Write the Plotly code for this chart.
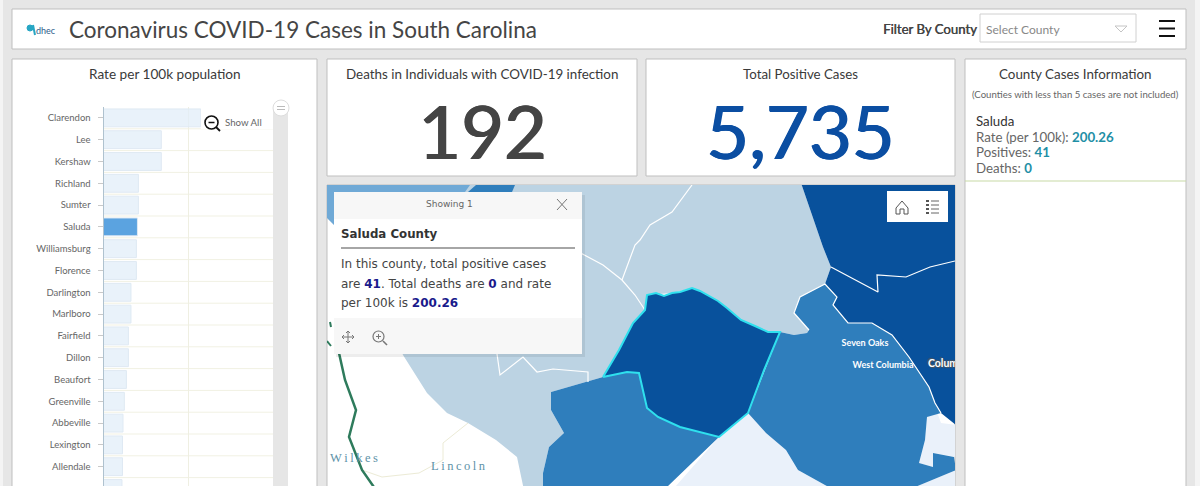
# -*- coding: utf-8 -*-
import plotly.graph_objects as go

W, H = 1200, 486
SANS = "Lato"
POPUP = "DejaVu Sans"

# chart values
counties = ["Clarendon", "Lee", "Kershaw", "Richland", "Sumter", "Saluda", "Williamsburg",
            "Florence", "Darlington", "Marlboro", "Fairfield", "Dillon", "Beaufort",
            "Greenville", "Abbeville", "Lexington", "Allendale", " "]
rates = [574, 341, 341, 206, 206, 200.26, 194, 194, 162, 162, 147, 147, 135, 123, 115, 112, 112, 109]
selected_county = "Saluda"

total_deaths = "192"
total_positive = "5,735"

# map outlines
saluda_x = [603, 619, 633, 645, 647, 656, 664, 672, 680, 692, 700, 707, 718, 727, 741, 755, 768, 780,
            764, 748, 719, 680, 658, 647, 639, 627]
saluda_y = [377, 350, 323, 310, 295, 293, 296, 293, 292, 288, 291, 295, 301, 308, 320, 326, 332, 332,
            370, 413, 437, 427, 417, 408, 373, 372]

edgefield_x = [551, 603, 627, 639, 647, 658, 680, 719, 668, 668, 543, 543, 549, 564, 551]
edgefield_y = [392, 377, 372, 373, 408, 417, 427, 437, 486, 495, 495, 473, 447, 433, 410]

lexington_x = [780, 794, 807, 809, 794, 800, 825, 837, 833, 848, 872, 892, 909, 929, 935, 941,
               927, 925, 919, 933, 933, 954, 956, 896, 843, 798, 786, 766, 748]
lexington_y = [332, 335, 333, 330, 313, 297, 284, 297, 305, 323, 323, 335, 357, 387, 403, 413,
               417, 440, 463, 467, 453, 457, 470, 495, 495, 470, 450, 433, 413]

richland_x = [800, 823, 831, 825, 837, 833, 848, 872, 892, 909, 929, 935, 941, 956, 956]
richland_y = [180, 247, 267, 284, 297, 305, 323, 323, 335, 357, 387, 403, 413, 425, 180]

light_x = [334, 800, 823, 831, 825, 800, 794, 809, 807, 794, 780, 768, 755, 741, 727, 707, 692, 672,
           647, 645, 633, 619, 603, 551, 551, 564, 549, 543, 543, 525, 517, 496, 468, 447, 427, 403, 380, 334]
light_y = [180, 180, 247, 267, 284, 297, 313, 330, 333, 335, 332, 332, 326, 320, 308, 295, 288, 293,
           295, 310, 323, 350, 377, 392, 410, 433, 447, 473, 495, 495, 457, 440, 423, 413, 393, 355, 300, 300]

pale_x = [719, 748, 766, 786, 798, 843, 668]
pale_y = [437, 413, 433, 450, 470, 495, 495]
pale2_x = [937, 941, 956, 956, 933, 933, 919, 925, 927]
pale2_y = [412, 423, 425, 457, 453, 467, 463, 440, 417]
pale3_x = [896, 956, 956]
pale3_y = [495, 470, 495]

mid_top_x = [468, 476, 515, 512]
mid_top_y = [192, 185, 185, 192]
mid_left_x = [327, 470, 465, 334, 334, 327]
mid_left_y = [185, 185, 192, 192, 225, 218]

river_x = [339, 345, 356, 349, 362, 376]
river_y = [353, 380, 410, 437, 470, 490]
river_bit1_x = [330, 331]
river_bit1_y = [322, 327]
river_bit2_x = [327, 331]
river_bit2_y = [341, 346]
road_x = [468, 443, 443, 419, 382, 362]
road_y = [423, 443, 460, 473, 477, 470]
border1_x = [575, 603, 622, 635, 645]
border1_y = [250, 265, 280, 295, 310]
border2_x = [622, 635, 640, 650, 672, 685, 692]
border2_y = [280, 245, 240, 225, 212, 195, 185]
border3_x = [497, 500, 523, 537, 553, 588, 588]
border3_y = [354, 375, 357, 372, 369, 372, 382]
border4_x = [831, 855, 878, 877, 906, 930, 955]
border4_y = [267, 280, 292, 275, 277, 267, 261]

place_names = ["Seven Oaks", "West Columbia", "Columbia"]
place_x = [865, 883, 950]
place_y = [344, 366, 364]
georgia_names = ["W\u2009i\u2009l\u2009k\u2009e\u2009s", "L\u2009i\u2009n\u2009c\u2009o\u2009l\u2009n"]
georgia_x = [354, 458]
georgia_y = [459, 467]

C_LIGHT = "#BCD3E3"
C_MID = "#2F7EBC"
C_DARK = "#08519C"
C_PALE = "#EAF1FA"
C_CYAN = "#2FE0EE"


def px(x):
    return x / W


def py(y):
    return 1 - y / H


shapes = []
annotations = []


def rect(x0, y0, x1, y1, fill="white", line=None, layer="below", width=1):
    shapes.append(dict(type="rect", xref="paper", yref="paper", x0=px(x0), x1=px(x1), y0=py(y0), y1=py(y1),
                       fillcolor=fill, line=dict(color=line or fill, width=width if line else 0), layer=layer))


def seg(x0, y0, x1, y1, color, width=1, layer="above"):
    shapes.append(dict(type="line", xref="paper", yref="paper", x0=px(x0), x1=px(x1), y0=py(y0), y1=py(y1),
                       line=dict(color=color, width=width), layer=layer))


def ring(x0, y0, x1, y1, color, width=1, fill="rgba(0,0,0,0)"):
    shapes.append(dict(type="circle", xref="paper", yref="paper", x0=px(x0), x1=px(x1), y0=py(y0), y1=py(y1),
                       fillcolor=fill, line=dict(color=color, width=width), layer="above"))


def label(x, y, text, size=12, color="#444444", anchor="center", family=SANS, shadow=None):
    font = dict(size=size, color=color, family=family)
    if shadow:
        font["shadow"] = shadow
    annotations.append(dict(xref="paper", yref="paper", x=px(x), y=py(y), text=text, showarrow=False,
                            xanchor=anchor, yanchor="middle", align="left", borderpad=0, font=font))


# page and panels
BORDER = "#BFBFBF"
rect(12, 9, 1186, 49, line=BORDER)
rect(12, 59, 317, 500, line=BORDER)
rect(327, 59, 637, 176, line=BORDER)
rect(646, 59, 955, 176, line=BORDER)
rect(965, 59, 1186, 500, line=BORDER)
rect(327, 185, 955, 500, line=BORDER)
rect(1195, 0, 1200, 486, fill="#F4F4F4")
rect(0, 0, 3, 486, fill="#F4F4F4")

# header
label(68, 29, "Coronavirus COVID-19 Cases in South Carolina", size=22.5, anchor="left", color="#454545")
label(35, 30, "dhec", size=9, anchor="left", color="#2B5C8A")
ring(27, 25, 33, 31, "#27A6C4", fill="#27A6C4")
seg(33, 25, 35, 35, "#27A6C4", 2)
label(882, 29, "Filter By County", size=13.2, anchor="left", color="#444444",
      shadow="0.4px 0 0 #444444")
rect(980, 14, 1136, 42, line="#D0D0D0")
label(985, 29, "Select County", size=12, anchor="left", color="#888888")
shapes.append(dict(type="path", xref="paper", yref="paper", layer="above",
                   path=f"M {px(1115)} {py(26)} L {px(1127)} {py(26)} L {px(1121)} {py(32)} Z",
                   line=dict(color="#C4C4C4", width=1)))
for yy in [21, 28.5, 36]:
    seg(1159, yy, 1175, yy, "#111111", 2)

# kpi cards
label(165, 74, "Rate per 100k population", size=13.6, color="#3A3A3A")
label(482, 74, "Deaths in Individuals with COVID-19 infection", size=13.4, color="#3A3A3A")
label(800, 74, "Total Positive Cases", size=13.3, color="#3A3A3A")
label(482, 131, total_deaths, size=74, color="#444444", shadow="1px 0 0 #444444, -0.5px 0 0 #444444")
label(800, 131, total_positive, size=74, color="#0B4EA2", shadow="1px 0 0 #0B4EA2, -0.5px 0 0 #0B4EA2")

# county info
label(1075, 74, "County Cases Information", size=13.4, color="#3A3A3A")
label(1075, 94, "(Counties with less than 5 cases are not included)", size=9.6, color="#666666")
TEAL = "#1F8FA6"
label(975, 121, "Saluda", size=13.3, color="#333333", anchor="left")
label(975, 137, f"Rate (per 100k): <b><span style='color:{TEAL}'>200.26</span></b>", size=13.3, color="#666666", anchor="left")
label(975, 152, f"Positives: <b><span style='color:{TEAL}'>41</span></b>", size=13.3, color="#666666", anchor="left")
label(975, 168, f"Deaths: <b><span style='color:{TEAL}'>0</span></b>", size=13.3, color="#666666", anchor="left")
seg(965, 181, 1186, 181, "#C7D9A5", 1)

# bar chart scrollbar and zoom control
rect(273, 107, 288, 500, fill="#E6E6E6")
rect(201, 107, 273, 129, layer="above")
ring(205, 116, 218, 129, "#111111", 1.6)
seg(208.5, 122.5, 214.5, 122.5, "#111111", 1.5)
seg(216, 127, 220, 131, "#111111", 1.8)
label(224, 122, "Show All", size=9.7, anchor="left", color="#666666")
ring(273, 100, 289, 116, "#DDDDDD", 1, fill="white")
seg(277, 106.5, 285, 106.5, "#BBBBBB", 1)
seg(277, 109.5, 285, 109.5, "#BBBBBB", 1)

# row separators of the bar chart
for i in range(len(counties)):
    shapes.append(dict(type="line", xref="x", yref="y", x0=0, x1=1000, y0=i + 0.5, y1=i + 0.5,
                       line=dict(color="#F1F1E3", width=1), layer="below"))

fig = go.Figure()

bar_colors = ["#5BA3E0" if c == selected_county else "rgba(226,237,248,0.75)" for c in counties]
fig.add_trace(go.Bar(y=counties, x=rates, orientation="h", width=0.82,
                     marker=dict(color=bar_colors, line=dict(color="#DFE9F3", width=1)),
                     xaxis="x", yaxis="y"))


def area(xs, ys, color, outline="#FFFFFF", lw=0):
    fig.add_trace(go.Scatter(x=xs + xs[:1], y=ys + ys[:1], mode="lines", fill="toself", fillcolor=color,
                             line=dict(color=outline if lw else color, width=lw), xaxis="x2", yaxis="y2",
                             hoverinfo="skip"))


def path(xs, ys, color, lw):
    fig.add_trace(go.Scatter(x=xs, y=ys, mode="lines", line=dict(color=color, width=lw), xaxis="x2", yaxis="y2",
                             hoverinfo="skip"))


area(light_x, light_y, C_LIGHT)
area(pale_x, pale_y, C_PALE)
area(pale2_x, pale2_y, C_PALE)
area(pale3_x, pale3_y, C_PALE)
area(richland_x, richland_y, C_DARK)
area(lexington_x, lexington_y, C_MID)
area(edgefield_x, edgefield_y, C_MID)
area(mid_left_x, mid_left_y, "#6FA9D6")
area(mid_top_x, mid_top_y, C_MID)
path(border1_x, border1_y, "white", 1.2)
path(border2_x, border2_y, "white", 1.2)
path(border3_x, border3_y, "white", 1.2)
path(border4_x, border4_y, "white", 1.2)
path(lexington_x[3:16], lexington_y[3:16], "white", 1.2)
path(road_x, road_y, "#ECEBD6", 1)
path(river_x, river_y, "#2E7B5C", 2.5)
path(river_bit1_x, river_bit1_y, "#2E7B5C", 2)
path(river_bit2_x, river_bit2_y, "#2E7B5C", 2)
area(saluda_x, saluda_y, C_DARK, outline=C_CYAN, lw=2)

fig.add_trace(go.Scatter(x=place_x[:2], y=place_y[:2], mode="text", text=place_names[:2], cliponaxis=True,
                         textfont=dict(size=9, color="white", family="Lato", weight=700),
                         xaxis="x2", yaxis="y2", hoverinfo="skip"))
fig.add_trace(go.Scatter(x=place_x[2:], y=place_y[2:], mode="text", text=place_names[2:], cliponaxis=True,
                         textfont=dict(size=10.5, color="white", family="Lato", weight=700,
                                       shadow="1px 1px 1px #555, -1px -1px 1px #555"),
                         xaxis="x2", yaxis="y2", hoverinfo="skip"))
fig.add_trace(go.Scatter(x=georgia_x, y=georgia_y, mode="text", text=georgia_names, cliponaxis=True,
                         textfont=dict(size=12.5, color="#5E93A8", family="Liberation Serif"),
                         xaxis="x2", yaxis="y2", hoverinfo="skip"))

# map widget
rect(887, 191, 948, 222, layer="above")
home = [(896, 208), (902, 201), (908, 208), (908, 214), (904, 214), (904, 209), (900, 209), (900, 214), (896, 214)]
shapes.append(dict(type="path", xref="paper", yref="paper", layer="above",
                   path="M " + " L ".join(f"{px(a)} {py(b)}" for a, b in home) + " Z",
                   line=dict(color="#555555", width=1)))
for yy in [201, 205, 209, 213]:
    seg(926, yy, 929, yy, "#555555", 2)
    seg(931, yy, 939, yy, "#666666", 1)

# popup
rect(336, 195, 585, 357, fill="rgba(0,0,0,0.07)", layer="above")
rect(334, 192, 582, 354, layer="above")
rect(334, 192, 582, 219, fill="#F7F7F7", layer="above")
rect(334, 318, 582, 354, fill="#F7F7F7", layer="above")
label(449, 204, "Showing 1", size=9, color="#666666", family=POPUP)
seg(557, 199, 567, 210, "#777777", 1)
seg(557, 210, 567, 199, "#777777", 1)
label(340, 234, "<b>Saluda County</b>", size=11.8, color="#333333", anchor="left", family=POPUP)
seg(341, 248, 575, 248, "#888888", 1.5)
NAVY = "#1A1A8C"
label(340, 264, "In this county, total positive cases", size=12, anchor="left", family=POPUP)
label(340, 284, f"are <b><span style='color:{NAVY}'>41</span></b>. Total deaths are <b><span style='color:{NAVY}'>0</span></b> and rate",
      size=12, anchor="left", family=POPUP)
label(340, 303, f"per 100k is <b><span style='color:{NAVY}'>200.26</span></b>", size=12, anchor="left", family=POPUP)
seg(348, 331, 348, 343, "#777777", 1)
seg(342, 337, 354, 337, "#777777", 1)
for dx, dy in [(-2, 2), (2, 2)]:
    seg(348, 331, 348 + dx, 331 + dy, "#777777", 1)
    seg(348, 343, 348 + dx, 343 - dy, "#777777", 1)
    seg(342, 337, 342 + dy, 337 + dx, "#777777", 1)
    seg(354, 337, 354 - dy, 337 + dx, "#777777", 1)
ring(373, 331, 384, 342, "#777777", 1.2)
seg(383, 341, 387, 345, "#777777", 1.6)
seg(376, 336.5, 381, 336.5, "#777777", 1)
seg(378.5, 334, 378.5, 339, "#777777", 1)

fig.update_layout(
    width=W, height=H, margin=dict(l=0, r=0, t=0, b=0, pad=0),
    paper_bgcolor="#E6E6E6", plot_bgcolor="rgba(0,0,0,0)",
    showlegend=False, shapes=shapes, annotations=annotations,
    xaxis=dict(domain=[px(103.5), px(273)], range=[0, 1000], dtick=500, showgrid=True, gridcolor="#EFEFE2",
               zeroline=False, showticklabels=False, ticks="", anchor="y"),
    yaxis=dict(domain=[0, py(107)], type="category", categoryorder="array", categoryarray=counties,
               range=[16.885, -0.5], showgrid=False, showline=True, linecolor="#AFC2CF", linewidth=1,
               ticks="outside", ticklen=5, tickcolor="#C9C9C9", ticklabelstandoff=5,
               tickfont=dict(size=9.5, color="#666666", family=SANS),
               zeroline=False, anchor="x"),
    xaxis2=dict(domain=[px(327), px(955)], range=[327, 955], visible=False, anchor="y2"),
    yaxis2=dict(domain=[0, py(185)], range=[486, 185], visible=False, anchor="x2"),
)

fig.write_html("out.html", config=dict(displayModeBar=False),
               post_script="document.body.style.margin='0';document.body.style.overflow='hidden';")
